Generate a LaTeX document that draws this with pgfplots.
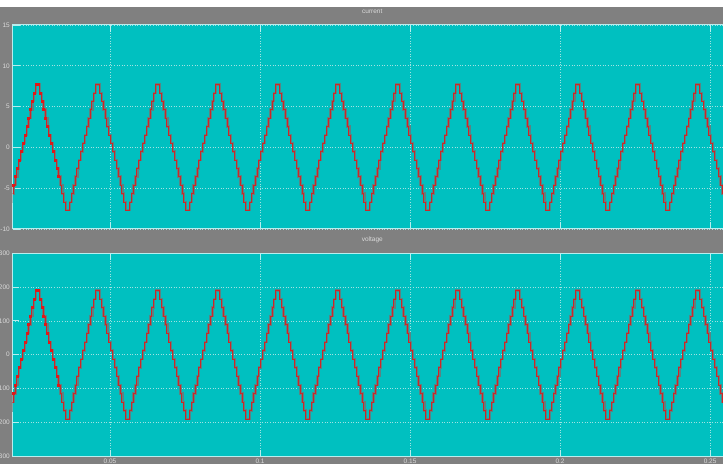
\documentclass[border=0pt]{standalone}
\usepackage{fontspec}
\setmainfont{Liberation Sans}
\usepackage{pgfplots}
\usepackage{pgfplotstable}
\pgfplotsset{compat=1.18}
\definecolor{bg}{HTML}{808080}
\definecolor{plotbg}{HTML}{00C0C0}
\definecolor{framec}{HTML}{B8EEEE}
\definecolor{gridc}{HTML}{A0E2E2}
\definecolor{lbl}{HTML}{DADADA}
\definecolor{trace}{HTML}{5C8282}
\definecolor{redc}{HTML}{E01818}

\pgfplotstableread{
t i v
0.016 -7.70 -190.0
0.016625 -6.67 -164.7
0.01725 -5.65 -139.3
0.017875 -4.62 -114.0
0.0185 -3.59 -88.7
0.019125 -2.57 -63.3
0.01975 -1.54 -38.0
0.020375 -0.51 -12.7
0.021 0.51 12.7
0.021625 1.54 38.0
0.02225 2.57 63.3
0.022875 3.59 88.7
0.0235 4.62 114.0
0.024125 5.65 139.3
0.02475 6.67 164.7
0.025375 7.70 190.0
0.026 7.70 190.0
0.026625 6.67 164.7
0.02725 5.65 139.3
0.027875 4.62 114.0
0.0285 3.59 88.7
0.029125 2.57 63.3
0.02975 1.54 38.0
0.030375 0.51 12.7
0.031 -0.51 -12.7
0.031625 -1.54 -38.0
0.03225 -2.57 -63.3
0.032875 -3.59 -88.7
0.0335 -4.62 -114.0
0.034125 -5.65 -139.3
0.03475 -6.67 -164.7
0.035375 -7.70 -190.0
0.036 -7.70 -190.0
0.036625 -6.67 -164.7
0.03725 -5.65 -139.3
0.037875 -4.62 -114.0
0.0385 -3.59 -88.7
0.039125 -2.57 -63.3
0.03975 -1.54 -38.0
0.040375 -0.51 -12.7
0.041 0.51 12.7
0.041625 1.54 38.0
0.04225 2.57 63.3
0.042875 3.59 88.7
0.0435 4.62 114.0
0.044125 5.65 139.3
0.04475 6.67 164.7
0.045375 7.70 190.0
0.046 7.70 190.0
0.046625 6.67 164.7
0.04725 5.65 139.3
0.047875 4.62 114.0
0.0485 3.59 88.7
0.049125 2.57 63.3
0.04975 1.54 38.0
0.050375 0.51 12.7
0.051 -0.51 -12.7
0.051625 -1.54 -38.0
0.05225 -2.57 -63.3
0.052875 -3.59 -88.7
0.0535 -4.62 -114.0
0.054125 -5.65 -139.3
0.05475 -6.67 -164.7
0.055375 -7.70 -190.0
0.056 -7.70 -190.0
0.056625 -6.67 -164.7
0.05725 -5.65 -139.3
0.057875 -4.62 -114.0
0.0585 -3.59 -88.7
0.059125 -2.57 -63.3
0.05975 -1.54 -38.0
0.060375 -0.51 -12.7
0.061 0.51 12.7
0.061625 1.54 38.0
0.06225 2.57 63.3
0.062875 3.59 88.7
0.0635 4.62 114.0
0.064125 5.65 139.3
0.06475 6.67 164.7
0.065375 7.70 190.0
0.066 7.70 190.0
0.066625 6.67 164.7
0.06725 5.65 139.3
0.067875 4.62 114.0
0.0685 3.59 88.7
0.069125 2.57 63.3
0.06975 1.54 38.0
0.070375 0.51 12.7
0.071 -0.51 -12.7
0.071625 -1.54 -38.0
0.07225 -2.57 -63.3
0.072875 -3.59 -88.7
0.0735 -4.62 -114.0
0.074125 -5.65 -139.3
0.07475 -6.67 -164.7
0.075375 -7.70 -190.0
0.076 -7.70 -190.0
0.076625 -6.67 -164.7
0.07725 -5.65 -139.3
0.077875 -4.62 -114.0
0.0785 -3.59 -88.7
0.079125 -2.57 -63.3
0.07975 -1.54 -38.0
0.080375 -0.51 -12.7
0.081 0.51 12.7
0.081625 1.54 38.0
0.08225 2.57 63.3
0.082875 3.59 88.7
0.0835 4.62 114.0
0.084125 5.65 139.3
0.08475 6.67 164.7
0.085375 7.70 190.0
0.086 7.70 190.0
0.086625 6.67 164.7
0.08725 5.65 139.3
0.087875 4.62 114.0
0.0885 3.59 88.7
0.089125 2.57 63.3
0.08975 1.54 38.0
0.090375 0.51 12.7
0.091 -0.51 -12.7
0.091625 -1.54 -38.0
0.09225 -2.57 -63.3
0.092875 -3.59 -88.7
0.0935 -4.62 -114.0
0.094125 -5.65 -139.3
0.09475 -6.67 -164.7
0.095375 -7.70 -190.0
0.096 -7.70 -190.0
0.096625 -6.67 -164.7
0.09725 -5.65 -139.3
0.097875 -4.62 -114.0
0.0985 -3.59 -88.7
0.099125 -2.57 -63.3
0.09975 -1.54 -38.0
0.100375 -0.51 -12.7
0.101 0.51 12.7
0.101625 1.54 38.0
0.10225 2.57 63.3
0.102875 3.59 88.7
0.1035 4.62 114.0
0.104125 5.65 139.3
0.10475 6.67 164.7
0.105375 7.70 190.0
0.106 7.70 190.0
0.106625 6.67 164.7
0.10725 5.65 139.3
0.107875 4.62 114.0
0.1085 3.59 88.7
0.109125 2.57 63.3
0.10975 1.54 38.0
0.110375 0.51 12.7
0.111 -0.51 -12.7
0.111625 -1.54 -38.0
0.11225 -2.57 -63.3
0.112875 -3.59 -88.7
0.1135 -4.62 -114.0
0.114125 -5.65 -139.3
0.11475 -6.67 -164.7
0.115375 -7.70 -190.0
0.116 -7.70 -190.0
0.116625 -6.67 -164.7
0.11725 -5.65 -139.3
0.117875 -4.62 -114.0
0.1185 -3.59 -88.7
0.119125 -2.57 -63.3
0.11975 -1.54 -38.0
0.120375 -0.51 -12.7
0.121 0.51 12.7
0.121625 1.54 38.0
0.12225 2.57 63.3
0.122875 3.59 88.7
0.1235 4.62 114.0
0.124125 5.65 139.3
0.12475 6.67 164.7
0.125375 7.70 190.0
0.126 7.70 190.0
0.126625 6.67 164.7
0.12725 5.65 139.3
0.127875 4.62 114.0
0.1285 3.59 88.7
0.129125 2.57 63.3
0.12975 1.54 38.0
0.130375 0.51 12.7
0.131 -0.51 -12.7
0.131625 -1.54 -38.0
0.13225 -2.57 -63.3
0.132875 -3.59 -88.7
0.1335 -4.62 -114.0
0.134125 -5.65 -139.3
0.13475 -6.67 -164.7
0.135375 -7.70 -190.0
0.136 -7.70 -190.0
0.136625 -6.67 -164.7
0.13725 -5.65 -139.3
0.137875 -4.62 -114.0
0.1385 -3.59 -88.7
0.139125 -2.57 -63.3
0.13975 -1.54 -38.0
0.140375 -0.51 -12.7
0.141 0.51 12.7
0.141625 1.54 38.0
0.14225 2.57 63.3
0.142875 3.59 88.7
0.1435 4.62 114.0
0.144125 5.65 139.3
0.14475 6.67 164.7
0.145375 7.70 190.0
0.146 7.70 190.0
0.146625 6.67 164.7
0.14725 5.65 139.3
0.147875 4.62 114.0
0.1485 3.59 88.7
0.149125 2.57 63.3
0.14975 1.54 38.0
0.150375 0.51 12.7
0.151 -0.51 -12.7
0.151625 -1.54 -38.0
0.15225 -2.57 -63.3
0.152875 -3.59 -88.7
0.1535 -4.62 -114.0
0.154125 -5.65 -139.3
0.15475 -6.67 -164.7
0.155375 -7.70 -190.0
0.156 -7.70 -190.0
0.156625 -6.67 -164.7
0.15725 -5.65 -139.3
0.157875 -4.62 -114.0
0.1585 -3.59 -88.7
0.159125 -2.57 -63.3
0.15975 -1.54 -38.0
0.160375 -0.51 -12.7
0.161 0.51 12.7
0.161625 1.54 38.0
0.16225 2.57 63.3
0.162875 3.59 88.7
0.1635 4.62 114.0
0.164125 5.65 139.3
0.16475 6.67 164.7
0.165375 7.70 190.0
0.166 7.70 190.0
0.166625 6.67 164.7
0.16725 5.65 139.3
0.167875 4.62 114.0
0.1685 3.59 88.7
0.169125 2.57 63.3
0.16975 1.54 38.0
0.170375 0.51 12.7
0.171 -0.51 -12.7
0.171625 -1.54 -38.0
0.17225 -2.57 -63.3
0.172875 -3.59 -88.7
0.1735 -4.62 -114.0
0.174125 -5.65 -139.3
0.17475 -6.67 -164.7
0.175375 -7.70 -190.0
0.176 -7.70 -190.0
0.176625 -6.67 -164.7
0.17725 -5.65 -139.3
0.177875 -4.62 -114.0
0.1785 -3.59 -88.7
0.179125 -2.57 -63.3
0.17975 -1.54 -38.0
0.180375 -0.51 -12.7
0.181 0.51 12.7
0.181625 1.54 38.0
0.18225 2.57 63.3
0.182875 3.59 88.7
0.1835 4.62 114.0
0.184125 5.65 139.3
0.18475 6.67 164.7
0.185375 7.70 190.0
0.186 7.70 190.0
0.186625 6.67 164.7
0.18725 5.65 139.3
0.187875 4.62 114.0
0.1885 3.59 88.7
0.189125 2.57 63.3
0.18975 1.54 38.0
0.190375 0.51 12.7
0.191 -0.51 -12.7
0.191625 -1.54 -38.0
0.19225 -2.57 -63.3
0.192875 -3.59 -88.7
0.1935 -4.62 -114.0
0.194125 -5.65 -139.3
0.19475 -6.67 -164.7
0.195375 -7.70 -190.0
0.196 -7.70 -190.0
0.196625 -6.67 -164.7
0.19725 -5.65 -139.3
0.197875 -4.62 -114.0
0.1985 -3.59 -88.7
0.199125 -2.57 -63.3
0.19975 -1.54 -38.0
0.200375 -0.51 -12.7
0.201 0.51 12.7
0.201625 1.54 38.0
0.20225 2.57 63.3
0.202875 3.59 88.7
0.2035 4.62 114.0
0.204125 5.65 139.3
0.20475 6.67 164.7
0.205375 7.70 190.0
0.206 7.70 190.0
0.206625 6.67 164.7
0.20725 5.65 139.3
0.207875 4.62 114.0
0.2085 3.59 88.7
0.209125 2.57 63.3
0.20975 1.54 38.0
0.210375 0.51 12.7
0.211 -0.51 -12.7
0.211625 -1.54 -38.0
0.21225 -2.57 -63.3
0.212875 -3.59 -88.7
0.2135 -4.62 -114.0
0.214125 -5.65 -139.3
0.21475 -6.67 -164.7
0.215375 -7.70 -190.0
0.216 -7.70 -190.0
0.216625 -6.67 -164.7
0.21725 -5.65 -139.3
0.217875 -4.62 -114.0
0.2185 -3.59 -88.7
0.219125 -2.57 -63.3
0.21975 -1.54 -38.0
0.220375 -0.51 -12.7
0.221 0.51 12.7
0.221625 1.54 38.0
0.22225 2.57 63.3
0.222875 3.59 88.7
0.2235 4.62 114.0
0.224125 5.65 139.3
0.22475 6.67 164.7
0.225375 7.70 190.0
0.226 7.70 190.0
0.226625 6.67 164.7
0.22725 5.65 139.3
0.227875 4.62 114.0
0.2285 3.59 88.7
0.229125 2.57 63.3
0.22975 1.54 38.0
0.230375 0.51 12.7
0.231 -0.51 -12.7
0.231625 -1.54 -38.0
0.23225 -2.57 -63.3
0.232875 -3.59 -88.7
0.2335 -4.62 -114.0
0.234125 -5.65 -139.3
0.23475 -6.67 -164.7
0.235375 -7.70 -190.0
0.236 -7.70 -190.0
0.236625 -6.67 -164.7
0.23725 -5.65 -139.3
0.237875 -4.62 -114.0
0.2385 -3.59 -88.7
0.239125 -2.57 -63.3
0.23975 -1.54 -38.0
0.240375 -0.51 -12.7
0.241 0.51 12.7
0.241625 1.54 38.0
0.24225 2.57 63.3
0.242875 3.59 88.7
0.2435 4.62 114.0
0.244125 5.65 139.3
0.24475 6.67 164.7
0.245375 7.70 190.0
0.246 7.70 190.0
0.246625 6.67 164.7
0.24725 5.65 139.3
0.247875 4.62 114.0
0.2485 3.59 88.7
0.249125 2.57 63.3
0.24975 1.54 38.0
0.250375 0.51 12.7
0.251 -0.51 -12.7
0.251625 -1.54 -38.0
0.25225 -2.57 -63.3
0.252875 -3.59 -88.7
0.2535 -4.62 -114.0
0.254125 -5.65 -139.3
0.25475 -6.67 -164.7
0.255375 -7.70 -190.0
0.256 -7.70 -190.0
0.256625 -6.67 -164.7
0.25725 -5.65 -139.3
0.257875 -4.62 -114.0
}\data

\pgfplotsset{
  scopepanel/.style={
    scale only axis,
    width=719.5pt,
    xmin=0.0175, xmax=0.2573,
    xtick={0.05,0.1,0.15,0.2,0.25},
    axis background/.style={fill=plotbg},
    axis line style={framec, line width=1pt},
    grid=major,
    major grid style={gridc, dash pattern=on 1pt off 1.6pt, line width=0.6pt},
    tick style={framec, line width=0.8pt},
    major tick length=7pt,
    tick align=inside,
    /pgf/number format/assume math mode=true,
    every tick label/.append style={font=\fontsize{6.5}{7.5}\selectfont, text=lbl},
    yticklabel style={anchor=east, inner sep=0pt, xshift=-2.5pt},
    xticklabel style={anchor=north, inner sep=0pt, yshift=-2pt},
    title style={font=\fontsize{6.5}{7}\selectfont, text=lbl, at={(0.5,1)}, anchor=center},
    clip=true,
  }
}

\begin{document}
\begin{tikzpicture}[x=1pt,y=1pt]
\useasboundingbox (0,0) rectangle (723,464);
\fill[bg] (0,0) rectangle (723,464);
\fill[white] (0,457) rectangle (723,464);
\begin{axis}[scopepanel, at={(12.5pt,235pt)}, anchor=south west, height=204pt,
  ymin=-10, ymax=15, ytick={-10,-5,0,5,10,15},
  xticklabels={}, title={current}, title style={yshift=8pt}]
  \addplot[trace, line width=2.4pt, const plot] table[x=t,y=i]{\data};
  \addplot[redc, line width=0.4pt, opacity=0.85, const plot, xshift=-0.7pt] table[x=t,y=i]{\data};
  \addplot[redc, only marks, mark=square*, mark size=1pt, restrict x to domain=0.0172:0.033] table[x=t,y=i]{\data};
\end{axis}
\begin{axis}[scopepanel, at={(12.5pt,7.5pt)}, anchor=south west, height=203.5pt,
  ymin=-300, ymax=300, ytick={-300,-200,-100,0,100,200,300},
  xticklabels={0.05,0.1,0.15,0.2,0.25}, title={voltage}, title style={yshift=7.5pt}]
  \addplot[trace, line width=2.4pt, const plot] table[x=t,y=v]{\data};
  \addplot[redc, line width=0.4pt, opacity=0.85, const plot, xshift=-0.7pt] table[x=t,y=v]{\data};
  \addplot[redc, only marks, mark=square*, mark size=1pt, restrict x to domain=0.0172:0.033] table[x=t,y=v]{\data};
\end{axis}
\end{tikzpicture}
\end{document}
